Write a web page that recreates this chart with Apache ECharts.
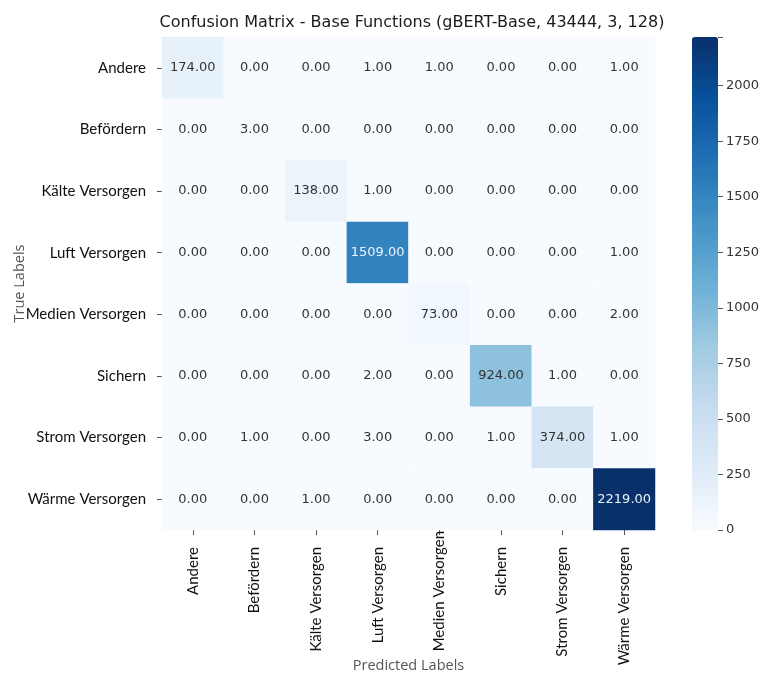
<!DOCTYPE html>
<html>
<head>
<meta charset="utf-8">
<script src="https://cdn.jsdelivr.net/npm/echarts@6/dist/echarts.min.js"></script>
<style>
  html, body { margin: 0; padding: 0; background: #fff; }
  #main { width: 761px; height: 675px; }
</style>
</head>
<body>
<div id="main"></div>
<script>
// Klassen (Zeilen = True, Spalten = Predicted)
const labels = ['Andere', 'Befördern', 'Kälte Versorgen', 'Luft Versorgen',
    'Medien Versorgen', 'Sichern', 'Strom Versorgen', 'Wärme Versorgen'];

const rowAndere  = [174, 0, 0, 1, 1, 0, 0, 1];
const rowBefoerd = [0, 3, 0, 0, 0, 0, 0, 0];
const rowKaelte  = [0, 0, 138, 1, 0, 0, 0, 0];
const rowLuft    = [0, 0, 0, 1509, 0, 0, 0, 1];
const rowMedien  = [0, 0, 0, 0, 73, 0, 0, 2];
const rowSichern = [0, 0, 0, 2, 0, 924, 1, 0];
const rowStrom   = [0, 1, 0, 3, 0, 1, 374, 1];
const rowWaerme  = [0, 0, 1, 0, 0, 0, 0, 2219];
const matrix = [rowAndere, rowBefoerd, rowKaelte, rowLuft, rowMedien, rowSichern, rowStrom, rowWaerme];

const colorbarTicks = [0, 250, 500, 750, 1000, 1250, 1500, 1750, 2000];

const vmax = 2219;
const blues = ['#f7fbff', '#deebf7', '#c6dbef', '#9ecae1', '#6baed6', '#4292c6', '#2171b5', '#08519c', '#08306b'];

const data = [];
matrix.forEach((row, i) => {
    row.forEach((v, j) => data.push({
        value: [j, i, v],
        label: { color: v > 1200 ? '#eaf3fb' : '#333' } // helle Schrift auf dunklen Zellen
    }));
});

// im Original sitzt "Medien Versorgen" unten etwas höher
const xCats = labels.map(l => l === 'Medien Versorgen'
    ? { value: l, textStyle: { padding: [0, -16, 0, 0] } }
    : l);

const chart = echarts.init(document.getElementById('main'));

const gl = 162, gt = 37, gs = 493; // Heatmap-Bereich
const cbLeft = 692, cbW = 26;

chart.setOption({
    backgroundColor: '#fff',
    animation: false,
    title: {
        text: 'Confusion Matrix - Base Functions (gBERT-Base, 43444, 3, 128)',
        left: 407, top: 10, textAlign: 'center',
        textStyle: { fontFamily: 'DejaVu Sans', fontSize: 16, fontWeight: 'normal', color: '#1a1a1a' }
    },
    grid: [
        { left: gl, top: gt, width: gs, height: gs, outerBoundsMode: 'none', containLabel: false },
        { left: cbLeft, top: gt, width: cbW, height: gs, outerBoundsMode: 'none', containLabel: false }
    ],
    xAxis: [{
        type: 'category', data: xCats, gridIndex: 0,
        position: 'bottom',
        name: 'Predicted Labels', nameLocation: 'middle', nameGap: 128,
        nameMoveOverlap: false,
        nameTextStyle: { fontFamily: 'Open Sans', fontSize: 14.5, color: '#555' },
        axisLine: { show: false },
        axisTick: { show: true, alignWithLabel: true, length: 5, lineStyle: { color: '#555' } },
        axisLabel: { rotate: 90, fontFamily: 'Lato', fontSize: 15, color: '#111', margin: 17, interval: 0 },
        splitLine: { show: false }
    }, {
        type: 'value', gridIndex: 1, show: false, min: 0, max: 1,
        axisLine: { show: false }, axisTick: { show: false }, axisLabel: { show: false }
    }],
    yAxis: [{
        type: 'category', data: labels, gridIndex: 0, inverse: true,
        name: 'True Labels', nameLocation: 'middle', nameGap: 135,
        nameMoveOverlap: false,
        nameTextStyle: { fontFamily: 'Open Sans', fontSize: 14.5, color: '#555' },
        axisLine: { show: false },
        axisTick: { show: true, alignWithLabel: true, length: 5, lineStyle: { color: '#555' } },
        axisLabel: { fontFamily: 'Lato', fontSize: 15, color: '#111', margin: 16, interval: 0 },
        splitLine: { show: false }
    }, {
        // Farbskala-Achse rechts neben dem Balken
        type: 'value', gridIndex: 1, position: 'right', min: 0, max: vmax, interval: 250,
        axisLine: { show: false, onZero: false },
        axisTick: { show: true, length: 5, lineStyle: { color: '#555' } },
        axisLabel: {
            fontFamily: 'DejaVu Sans', fontSize: 13, color: '#333', margin: 8,
            formatter: v => colorbarTicks.includes(v) ? String(v) : ''
        },
        splitLine: { show: false }
    }],
    visualMap: {
        type: 'continuous', min: 0, max: vmax, seriesIndex: 0,
        calculable: false, showLabel: false,
        hoverLink: false,
        left: cbLeft, top: gt, itemWidth: cbW, itemHeight: gs,
        inRange: { color: blues },
        padding: 0
    },
    series: [{
        type: 'heatmap', xAxisIndex: 0, yAxisIndex: 0,
        data: data,
        label: {
            show: true,
            fontFamily: 'DejaVu Sans', fontSize: 13,
            formatter: p => p.value[2].toFixed(2)
        },
        emphasis: { disabled: true }
    }]
});
</script>
</body>
</html>
